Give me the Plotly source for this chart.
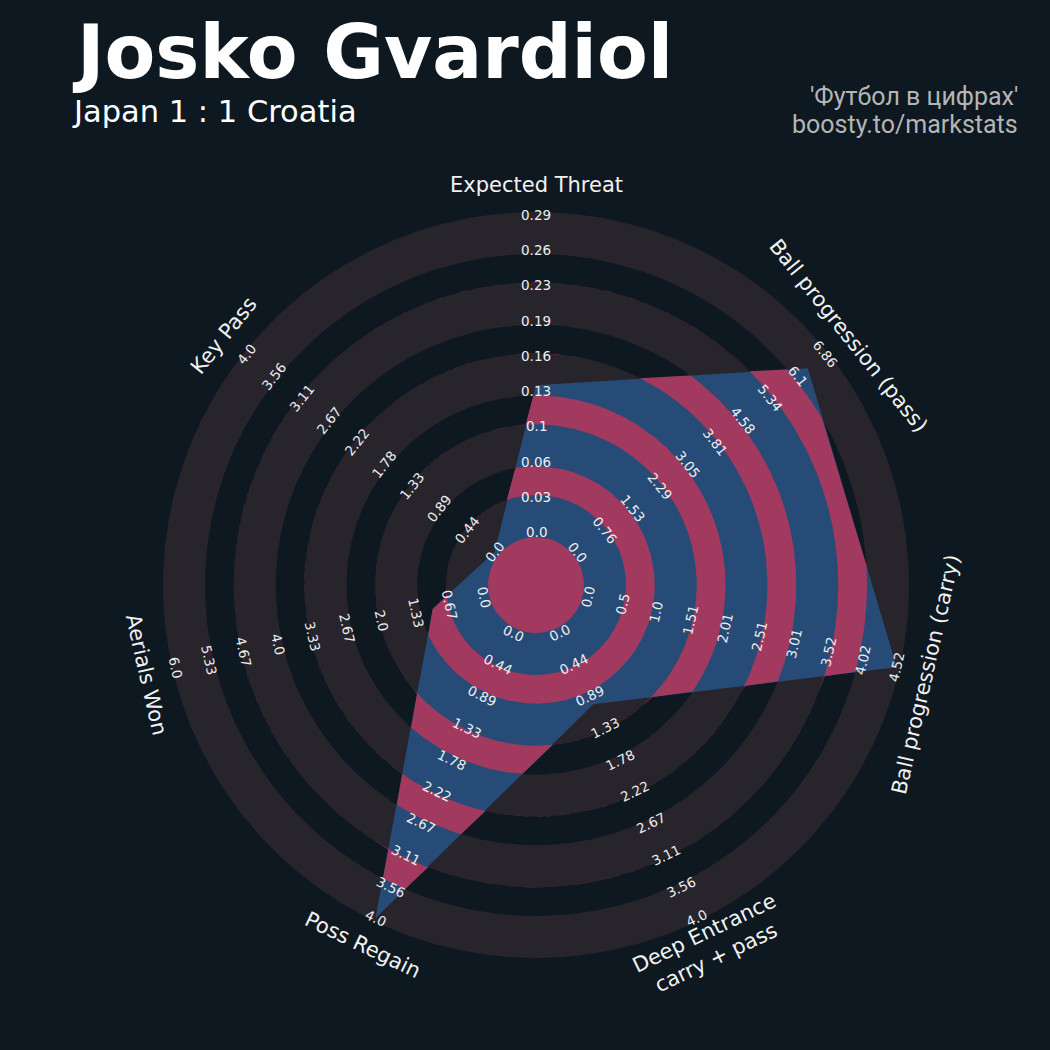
import numpy as np
import plotly.graph_objects as go

# ---------------- data ----------------
params = ["Expected Threat", "Ball progression (pass)", "Ball progression (carry)",
          "Deep Entrance<br>carry + pass", "Poss Regain", "Aerials Won", "Key Pass"]
range_low = [0.0, 0.0, 0.0, 0.0, 0.0, 0.0, 0.0]
range_high = [0.2915, 6.864, 4.52, 4.0, 4.0, 6.0, 4.0]
values = [0.135, 6.38, 4.52, 1.0, 4.0, 1.0, 0.0]
title_text = "Josko Gvardiol"
subtitle_text = "Japan 1 : 1 Croatia"
credit_lines = ["'Футбол в цифрах'", "boosty.to/markstats"]
N_LABELS = 10

# ---------------- style / geometry ----------------
W = H = 1050
CX, CY = 536, 585            # radar centre in page pixels
BG = "#0e1820"
GREY = "#28242b"
BLUE = "#264b76"
PINK = "#a23a60"
R_CENTER = 48
GREY_W = 42
GAP_W = 28.75
N_GREY = 5
R_VAL0, R_VAL1 = 53, 370
R_PARAM = 400

n = len(params)
angles = np.pi / 2 - 2 * np.pi * np.arange(n) / n

def to_r(v, lo, hi):
    return R_VAL0 + (v - lo) / (hi - lo) * (R_VAL1 - R_VAL0)

grey_start = [R_CENTER + k * (GREY_W + GAP_W) for k in range(N_GREY)]
grey_end = [s + GREY_W for s in grey_start]
gaps = [(grey_end[k], grey_start[k + 1]) for k in range(N_GREY - 1)]

fig = go.Figure()

def circle_xy(r, npts=720):
    t = np.linspace(0, 2 * np.pi, npts)
    return r * np.cos(t), r * np.sin(t)

def add_fill(x, y, color):
    fig.add_trace(go.Scatter(x=x, y=y, mode="lines", fill="toself", fillcolor=color,
                             line=dict(width=0, color=color), hoverinfo="skip",
                             showlegend=False))

# background rings (largest first)
disks = []
for k in range(N_GREY - 1, -1, -1):
    disks.append((grey_end[k], GREY))
    disks.append((grey_start[k], BG))
for r, c in disks:
    x, y = circle_xy(r)
    add_fill(x, y, c)

# radar polygon
rv = np.array([to_r(v, lo, hi) for v, lo, hi in zip(values, range_low, range_high)])
px = rv * np.cos(angles)
py = rv * np.sin(angles)
add_fill(np.append(px, px[0]), np.append(py, py[0]), BLUE)

# polygon radius along rays
def poly_r(theta):
    ux, uy = np.cos(theta), np.sin(theta)
    best = np.zeros_like(theta)
    for i in range(n):
        Px, Py = px[i], py[i]
        Qx, Qy = px[(i + 1) % n], py[(i + 1) % n]
        Dx, Dy = Qx - Px, Qy - Py
        den = ux * Dy - uy * Dx
        with np.errstate(divide="ignore", invalid="ignore"):
            r = (Px * Dy - Py * Dx) / den
            s = (Px * uy - Py * ux) / den
        ok = (s >= -1e-9) & (s <= 1 + 1e-9) & (r > 0) & np.isfinite(r)
        best = np.where(ok, np.maximum(best, np.where(ok, r, 0)), best)
    return best

theta = np.sort(np.concatenate([np.linspace(0, 2 * np.pi, 3601),
                                np.mod(angles, 2 * np.pi)]))
rp = poly_r(theta)

# pink bands clipped to polygon
for a, b in gaps:
    ro = np.clip(rp, a, b)
    xo, yo = ro * np.cos(theta), ro * np.sin(theta)
    xi, yi = a * np.cos(theta[::-1]), a * np.sin(theta[::-1])
    add_fill(np.concatenate([xo, xi]), np.concatenate([yo, yi]), PINK)

# centre circle
x, y = circle_xy(R_CENTER)
add_fill(x, y, PINK)

annotations = []

def text_angle(i):
    ta = i * 360.0 / n
    while ta > 90:
        ta -= 180
    while ta <= -90:
        ta += 180
    return ta

for i in range(n):
    ta = text_angle(i)
    ca, sa = np.cos(angles[i]), np.sin(angles[i])
    annotations.append(dict(x=R_PARAM * ca, y=R_PARAM * sa, text=params[i], showarrow=False,
                            textangle=ta, xanchor="center", yanchor="middle",
                            font=dict(family="DejaVu Sans", size=21, color="#f2f2f2")))
    lo, hi = range_low[i], range_high[i]
    for j in range(N_LABELS):
        val = lo + (hi - lo) * j / (N_LABELS - 1)
        r = to_r(val, lo, hi)
        annotations.append(dict(x=r * ca, y=r * sa, text=str(round(val, 2)), showarrow=False,
                                textangle=ta, xanchor="center", yanchor="middle",
                                font=dict(family="DejaVu Sans", size=13.5, color="#eeeeee")))

# titles (positions in page pixels -> data coords)
def px2x(p):
    return p - CX

def py2y(p):
    return CY - p

annotations.append(dict(x=px2x(70), y=py2y(52), text="<b>" + title_text + "</b>", showarrow=False,
                        xanchor="left", yanchor="middle",
                        font=dict(family="DejaVu Sans", size=74, color="#ffffff")))
annotations.append(dict(x=px2x(70), y=py2y(111), text=subtitle_text, showarrow=False,
                        xanchor="left", yanchor="middle",
                        font=dict(family="DejaVu Sans", size=30.5, color="#ffffff")))
for k, line in enumerate(credit_lines):
    annotations.append(dict(x=px2x(1020), y=py2y(96 + 28 * k), text=line, showarrow=False,
                            xanchor="right", yanchor="middle",
                            font=dict(family="Roboto", size=25, color="#b5b5b5")))

fig.update_layout(
    width=W, height=H, margin=dict(l=0, r=0, t=0, b=0),
    paper_bgcolor=BG, plot_bgcolor=BG, showlegend=False,
    xaxis=dict(range=[-CX, W - CX], visible=False, fixedrange=True),
    yaxis=dict(range=[-(H - CY), CY], visible=False, fixedrange=True),
    annotations=annotations,
)
fig.write_html("out.html", config={"displayModeBar": False},
               post_script="document.body.style.margin='0';"
                           "document.body.style.background='" + BG + "';")
